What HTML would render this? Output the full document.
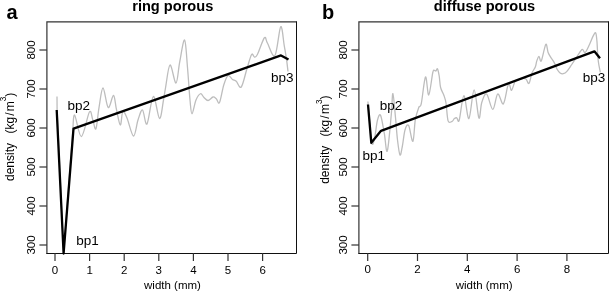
<!DOCTYPE html>
<html><head><meta charset="utf-8"><style>
html,body{margin:0;padding:0;background:#fff;width:609px;height:292px;overflow:hidden}
svg{display:block;will-change:transform}
</style></head><body>
<svg width="609" height="292" viewBox="0 0 609 292">
<style>
.ax{stroke:#333;stroke-width:1.2;fill:none}
.axk{stroke:#111;stroke-width:1;fill:none}
.tl{font-family:"Liberation Sans", sans-serif;font-size:11.5px;fill:#000}
.t{font-family:"Liberation Sans", sans-serif;font-size:11.5px;fill:#000}
.yl{font-family:"Liberation Sans", sans-serif;font-size:12px;fill:#000}
.bp{font-family:"Liberation Sans", sans-serif;font-size:13.5px;fill:#000}
.ttl{font-family:"Liberation Sans", sans-serif;font-size:14.6px;font-weight:bold;fill:#000}
.pl{font-family:"Liberation Sans", sans-serif;font-size:20px;font-weight:bold;fill:#000}
.g{stroke:#bdbdbd;stroke-width:1.3;fill:none;stroke-linejoin:round}
.k{stroke:#000;stroke-width:2.3;fill:none;stroke-linejoin:round;stroke-linecap:butt}
</style>
<rect width="609" height="292" fill="#fff"/>
<!-- Panel a -->
<text class="pl" x="6.5" y="18.5">a</text>
<text class="ttl" x="172.75" y="10.9" text-anchor="middle">ring porous</text>
<path d="M296.5,21.9 L46.9,21.9 L46.9,253.5" class="ax"/><path d="M46.3,253.5 L296.5,253.5 L296.5,21.3" class="axk"/>
<line x1="39.4" y1="50.0" x2="46.9" y2="50.0" class="ax"/><text class="tl" transform="translate(34.9,50.0) rotate(-90)" text-anchor="middle">800</text><line x1="39.4" y1="89.0" x2="46.9" y2="89.0" class="ax"/><text class="tl" transform="translate(34.9,89.0) rotate(-90)" text-anchor="middle">700</text><line x1="39.4" y1="128.0" x2="46.9" y2="128.0" class="ax"/><text class="tl" transform="translate(34.9,128.0) rotate(-90)" text-anchor="middle">600</text><line x1="39.4" y1="167.0" x2="46.9" y2="167.0" class="ax"/><text class="tl" transform="translate(34.9,167.0) rotate(-90)" text-anchor="middle">500</text><line x1="39.4" y1="206.0" x2="46.9" y2="206.0" class="ax"/><text class="tl" transform="translate(34.9,206.0) rotate(-90)" text-anchor="middle">400</text><line x1="39.4" y1="245.0" x2="46.9" y2="245.0" class="ax"/><text class="tl" transform="translate(34.9,245.0) rotate(-90)" text-anchor="middle">300</text>
<line x1="55.0" y1="253.3" x2="55.0" y2="261" class="ax"/><text class="tl" x="55.0" y="273.7" text-anchor="middle">0</text><line x1="89.6" y1="253.3" x2="89.6" y2="261" class="ax"/><text class="tl" x="89.6" y="273.7" text-anchor="middle">1</text><line x1="124.2" y1="253.3" x2="124.2" y2="261" class="ax"/><text class="tl" x="124.2" y="273.7" text-anchor="middle">2</text><line x1="158.8" y1="253.3" x2="158.8" y2="261" class="ax"/><text class="tl" x="158.8" y="273.7" text-anchor="middle">3</text><line x1="193.4" y1="253.3" x2="193.4" y2="261" class="ax"/><text class="tl" x="193.4" y="273.7" text-anchor="middle">4</text><line x1="228.0" y1="253.3" x2="228.0" y2="261" class="ax"/><text class="tl" x="228.0" y="273.7" text-anchor="middle">5</text><line x1="262.6" y1="253.3" x2="262.6" y2="261" class="ax"/><text class="tl" x="262.6" y="273.7" text-anchor="middle">6</text>
<text class="t" x="172.5" y="289.3" text-anchor="middle">width (mm)</text>
<text class="yl" transform="translate(13.6,181) rotate(-90)">density</text>
<text class="yl" transform="translate(13.6,133.6) rotate(-90)">(kg<tspan dx="1.2">/</tspan><tspan dx="1.2">m</tspan><tspan dy="-7.6" font-size="8.2">3</tspan><tspan dy="7.6">)</tspan></text>
<path class="g" d="M57.00,96.50 L57.10,110.00 L63.60,252.50 L72.80,131.00 L72.80,131.00 C73.10,128.33 73.17,114.07 74.60,115.00 C76.03,115.93 78.93,137.10 81.40,136.60 C83.87,136.10 87.52,114.85 89.40,112.00 C91.28,109.15 91.62,116.68 92.70,119.50 C93.78,122.32 94.85,130.88 95.90,128.90 C96.95,126.92 97.82,114.42 99.00,107.60 C100.18,100.78 101.47,88.02 103.00,88.00 C104.53,87.98 106.45,106.25 108.20,107.50 C109.95,108.75 112.13,95.22 113.50,95.50 C114.87,95.78 115.27,104.28 116.40,109.20 C117.53,114.12 119.23,124.62 120.30,125.00 C121.37,125.38 121.68,112.67 122.80,111.50 C123.92,110.33 125.22,113.92 127.00,118.00 C128.78,122.08 131.67,135.67 133.50,136.00 C135.33,136.33 136.50,124.33 138.00,120.00 C139.50,115.67 141.00,109.33 142.50,110.00 C144.00,110.67 145.20,126.25 147.00,124.00 C148.80,121.75 151.22,97.42 153.30,96.50 C155.38,95.58 157.80,117.92 159.50,118.50 C161.20,119.08 162.50,105.08 163.50,100.00 C164.50,94.92 164.42,93.83 165.50,88.00 C166.58,82.17 168.25,65.83 170.00,65.00 C171.75,64.17 174.38,83.50 176.00,83.00 C177.62,82.50 178.27,69.17 179.70,62.00 C181.13,54.83 183.30,39.08 184.60,40.00 C185.90,40.92 186.60,57.50 187.50,67.50 C188.40,77.50 189.25,92.29 190.00,100.00 C190.75,107.71 191.00,113.75 192.00,113.75 C193.00,113.75 194.58,103.33 196.00,100.00 C197.42,96.67 199.17,94.17 200.50,93.75 C201.83,93.33 202.75,96.38 204.00,97.50 C205.25,98.62 206.50,100.58 208.00,100.50 C209.50,100.42 211.62,97.29 213.00,97.00 C214.38,96.71 215.17,97.83 216.25,98.75 C217.33,99.67 218.25,104.79 219.50,102.50 C220.75,100.21 222.33,89.50 223.75,85.00 C225.17,80.50 226.54,76.42 228.00,75.50 C229.46,74.58 231.12,78.54 232.50,79.50 C233.88,80.46 234.79,80.00 236.25,81.25 C237.71,82.50 239.46,89.12 241.25,87.00 C243.04,84.88 245.28,73.92 247.00,68.50 C248.72,63.08 250.37,56.42 251.60,54.50 C252.83,52.58 253.43,57.00 254.40,57.00 C255.37,57.00 255.73,57.70 257.40,54.50 C259.07,51.30 262.73,39.72 264.40,37.80 C266.07,35.88 265.65,40.02 267.40,43.00 C269.15,45.98 272.68,58.42 274.90,55.70 C277.12,52.98 279.15,28.43 280.70,26.70 C282.25,24.97 283.23,39.88 284.20,45.30 C285.17,50.72 285.87,54.83 286.50,59.20 C287.13,63.57 287.75,69.45 288.00,71.50"/>
<path class="k" d="M56.70,110.00 L63.60,253.50 L73.50,128.60 L281.00,55.40 L288.50,59.60"/>
<text class="bp" x="67.5" y="109.5">bp2</text>
<text class="bp" x="76.2" y="244.6">bp1</text>
<text class="bp" x="271.1" y="82">bp3</text>
<!-- Panel b -->
<text class="pl" x="322" y="18.5">b</text>
<text class="ttl" x="484.5" y="10.9" text-anchor="middle">diffuse porous</text>
<path d="M608.5,21.9 L358.9,21.9 L358.9,253.5" class="ax"/><path d="M358.3,253.5 L608.5,253.5 L608.5,21.3" class="axk"/>
<line x1="351.4" y1="50.0" x2="358.9" y2="50.0" class="ax"/><text class="tl" transform="translate(347.2,50.0) rotate(-90)" text-anchor="middle">800</text><line x1="351.4" y1="89.0" x2="358.9" y2="89.0" class="ax"/><text class="tl" transform="translate(347.2,89.0) rotate(-90)" text-anchor="middle">700</text><line x1="351.4" y1="128.0" x2="358.9" y2="128.0" class="ax"/><text class="tl" transform="translate(347.2,128.0) rotate(-90)" text-anchor="middle">600</text><line x1="351.4" y1="167.0" x2="358.9" y2="167.0" class="ax"/><text class="tl" transform="translate(347.2,167.0) rotate(-90)" text-anchor="middle">500</text><line x1="351.4" y1="206.0" x2="358.9" y2="206.0" class="ax"/><text class="tl" transform="translate(347.2,206.0) rotate(-90)" text-anchor="middle">400</text><line x1="351.4" y1="245.0" x2="358.9" y2="245.0" class="ax"/><text class="tl" transform="translate(347.2,245.0) rotate(-90)" text-anchor="middle">300</text>
<line x1="367.7" y1="253.3" x2="367.7" y2="261" class="ax"/><text class="tl" x="367.7" y="272.5" text-anchor="middle">0</text><line x1="417.5" y1="253.3" x2="417.5" y2="261" class="ax"/><text class="tl" x="417.5" y="272.5" text-anchor="middle">2</text><line x1="467.29999999999995" y1="253.3" x2="467.29999999999995" y2="261" class="ax"/><text class="tl" x="467.29999999999995" y="272.5" text-anchor="middle">4</text><line x1="517.0999999999999" y1="253.3" x2="517.0999999999999" y2="261" class="ax"/><text class="tl" x="517.0999999999999" y="272.5" text-anchor="middle">6</text><line x1="566.9" y1="253.3" x2="566.9" y2="261" class="ax"/><text class="tl" x="566.9" y="272.5" text-anchor="middle">8</text>
<text class="t" x="484.2" y="288.6" text-anchor="middle">width (mm)</text>
<text class="yl" transform="translate(329.1,183.8) rotate(-90)">density</text>
<text class="yl" transform="translate(329.1,136.5) rotate(-90)">(kg<tspan dx="1.2">/</tspan><tspan dx="1.2">m</tspan><tspan dy="-7.6" font-size="8.2">3</tspan><tspan dy="7.6">)</tspan></text>
<path class="g" d="M367.90,101.50 L368.20,105.00 L371.50,143.00 L371.50,143.00 C371.75,143.17 372.42,145.17 373.00,144.00 C373.58,142.83 374.25,140.00 375.00,136.00 C375.75,132.00 376.57,123.43 377.50,120.00 C378.43,116.57 379.47,113.18 380.60,115.40 C381.73,117.62 383.18,127.37 384.30,133.30 C385.42,139.23 386.14,154.05 387.30,151.00 C388.46,147.95 390.32,124.57 391.25,115.00 C392.18,105.43 392.19,93.18 392.90,93.60 C393.61,94.02 394.73,109.77 395.50,117.50 C396.27,125.23 396.75,133.75 397.50,140.00 C398.25,146.25 399.18,154.00 400.00,155.00 C400.82,156.00 401.57,150.17 402.40,146.00 C403.23,141.83 403.97,133.43 405.00,130.00 C406.03,126.57 407.28,123.50 408.60,125.40 C409.92,127.30 411.78,142.32 412.90,141.40 C414.02,140.48 414.32,125.55 415.30,119.90 C416.28,114.25 417.76,110.19 418.75,107.50 C419.74,104.81 420.12,108.83 421.25,103.75 C422.38,98.67 424.25,78.46 425.50,77.00 C426.75,75.54 427.53,95.75 428.75,95.00 C429.97,94.25 431.84,76.58 432.80,72.50 C433.76,68.42 433.97,70.75 434.50,70.50 C435.03,70.25 435.50,71.28 436.00,71.00 C436.50,70.72 436.97,67.97 437.50,68.80 C438.03,69.63 438.68,72.88 439.20,76.00 C439.72,79.12 439.84,84.33 440.60,87.50 C441.36,90.67 442.85,92.42 443.75,95.00 C444.65,97.58 445.27,98.68 446.00,103.00 C446.73,107.32 447.08,117.85 448.10,120.90 C449.12,123.95 451.05,121.68 452.10,121.30 C453.15,120.92 453.62,119.18 454.40,118.60 C455.18,118.02 456.00,117.53 456.80,117.80 C457.60,118.07 458.02,123.88 459.20,120.20 C460.38,116.52 462.28,95.97 463.90,95.70 C465.52,95.43 467.20,119.58 468.90,118.60 C470.60,117.62 472.43,89.90 474.10,89.80 C475.77,89.70 477.63,115.85 478.90,118.00 C480.17,120.15 480.42,106.70 481.70,102.70 C482.98,98.70 484.75,92.88 486.60,94.00 C488.45,95.12 490.95,109.40 492.80,109.40 C494.65,109.40 495.95,94.92 497.70,94.00 C499.45,93.08 501.65,105.13 503.30,103.90 C504.95,102.67 506.58,89.88 507.60,86.60 C508.62,83.32 508.75,83.58 509.40,84.20 C510.05,84.82 510.57,90.72 511.50,90.30 C512.43,89.88 513.92,83.42 515.00,81.70 C516.08,79.98 516.83,80.53 518.00,80.00 C519.17,79.47 520.67,78.67 522.00,78.50 C523.33,78.33 524.83,78.18 526.00,79.00 C527.17,79.82 528.00,84.40 529.00,83.40 C530.00,82.40 530.95,75.73 532.00,73.00 C533.05,70.27 534.50,69.02 535.30,67.00 C536.10,64.98 536.18,62.68 536.80,60.90 C537.42,59.12 538.25,56.30 539.00,56.30 C539.75,56.30 540.17,62.90 541.30,60.90 C542.43,58.90 544.67,45.68 545.80,44.30 C546.93,42.92 547.22,50.33 548.10,52.60 C548.98,54.87 550.10,56.27 551.10,57.90 C552.10,59.53 553.10,60.52 554.10,62.40 C555.10,64.28 556.10,67.45 557.10,69.20 C558.10,70.95 559.08,72.15 560.10,72.90 C561.12,73.65 562.07,73.95 563.20,73.70 C564.33,73.45 565.48,72.93 566.90,71.40 C568.32,69.87 570.11,66.90 571.75,64.50 C573.39,62.10 575.64,58.68 576.75,57.00 C577.86,55.32 577.48,55.67 578.40,54.40 C579.32,53.13 581.17,49.72 582.30,49.40 C583.43,49.08 584.00,53.32 585.20,52.50 C586.40,51.68 588.17,47.27 589.50,44.50 C590.83,41.73 592.17,37.85 593.20,35.90 C594.23,33.95 595.08,31.98 595.70,32.80 C596.32,33.62 596.60,37.82 596.90,40.80 C597.20,43.78 597.25,47.17 597.50,50.70 C597.75,54.23 597.93,58.40 598.40,62.00 C598.87,65.60 599.98,70.58 600.30,72.30"/>
<path class="k" d="M368.00,104.50 L371.30,142.80 L381.00,130.80 L594.40,51.30 L600.00,58.30"/>
<text class="bp" x="379.7" y="109.7">bp2</text>
<text class="bp" x="362.4" y="160">bp1</text>
<text class="bp" x="582.7" y="82">bp3</text>
</svg>
</body></html>
